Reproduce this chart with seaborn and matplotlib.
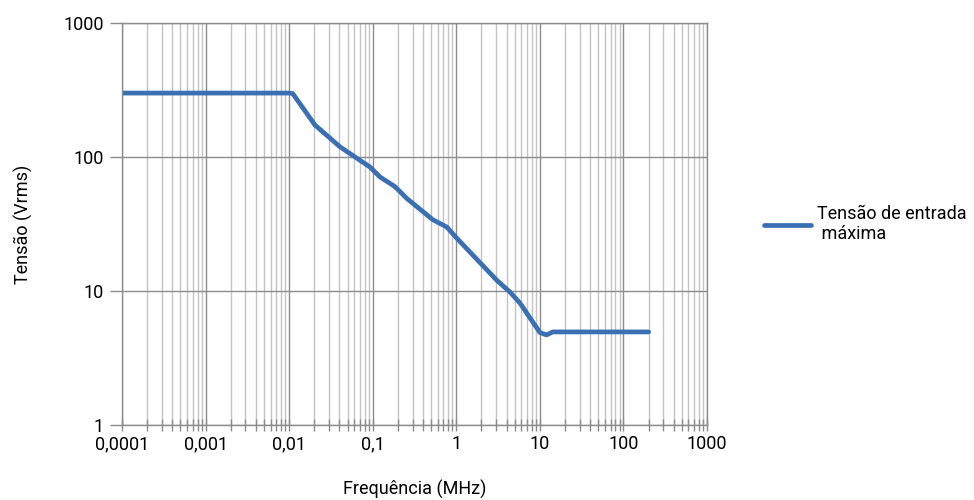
import matplotlib
matplotlib.use("Agg")
import matplotlib.pyplot as plt
from matplotlib.ticker import LogLocator, NullFormatter, FixedLocator, FixedFormatter
import seaborn as sns
import pandas as pd

freq_mhz = [0.0001, 0.001, 0.01, 0.011, 0.0204, 0.0406, 0.093, 0.122, 0.185,
            0.256, 0.525, 0.77, 1.0, 3.06, 4.4, 5.8, 10.0, 12.0, 14.3, 50.0, 200.0]
tensao_vrms = [300, 300, 300, 298, 173, 119, 84, 71, 60,
               49, 34, 30, 25, 12, 9.8, 8.1, 4.9, 4.7, 4.95, 4.95, 4.95]

x_ticks = [0.0001, 0.001, 0.01, 0.1, 1, 10, 100, 1000]
x_labels = ["0,0001", "0,001", "0,01", "0,1", "1", "10", "100", "1000"]
y_ticks = [1, 10, 100, 1000]
y_labels = ["1", "10", "100", "1000"]

series_name = "Tensão de entrada\n máxima"
line_color = "#3A6FB4"

df = pd.DataFrame({"freq": freq_mhz, "v": tensao_vrms, "serie": series_name})

sns.set_style("white")
plt.rcParams["font.family"] = ["Roboto", "DejaVu Sans"]
plt.rcParams["text.color"] = "black"
plt.rcParams["axes.labelcolor"] = "black"
plt.rcParams["xtick.labelcolor"] = "black"
plt.rcParams["ytick.labelcolor"] = "black"

fig = plt.figure(figsize=(9.74, 5), dpi=100)
ax = fig.add_axes([0.1253, 0.15, 0.6006, 0.804])

sns.lineplot(data=df, x="freq", y="v", hue="serie", palette=[line_color],
             linewidth=3.4, ax=ax, sort=False)

ax.set_xscale("log")
ax.set_yscale("log")
ax.set_xlim(0.0001, 1000)
ax.set_ylim(1, 1000)

ax.xaxis.set_major_locator(FixedLocator(x_ticks))
ax.xaxis.set_major_formatter(FixedFormatter(x_labels))
ax.xaxis.set_minor_locator(LogLocator(base=10, subs=range(2, 10), numticks=100))
ax.xaxis.set_minor_formatter(NullFormatter())
ax.yaxis.set_major_locator(FixedLocator(y_ticks))
ax.yaxis.set_major_formatter(FixedFormatter(y_labels))
ax.yaxis.set_minor_locator(FixedLocator([]))

ax.grid(which="major", axis="both", color="#8C8C8C", linewidth=1.0)
ax.grid(which="minor", axis="x", color="#C4C4C4", linewidth=1.0)
ax.set_axisbelow(True)

ax.tick_params(axis="x", which="both", direction="inout", length=9, width=1,
               color="#8C8C8C", labelsize=13, pad=3, bottom=True)
ax.tick_params(axis="y", which="major", direction="out", length=9, width=1,
               color="#8C8C8C", labelsize=13, pad=4, left=True)

for side, sp in ax.spines.items():
    sp.set_color("#8C8C8C")
    sp.set_linewidth(1.0)

ax.set_xlabel("Frequência (MHz)", fontsize=13, labelpad=19)
ax.set_ylabel("Tensão (Vrms)", fontsize=13, labelpad=22)

ax.legend(loc="center left", bbox_to_anchor=(1.07, 0.5), frameon=False,
          fontsize=13, handlelength=2.6, handletextpad=0.3, title=None)

fig.savefig("out.png", dpi=100)
plt.close(fig)
